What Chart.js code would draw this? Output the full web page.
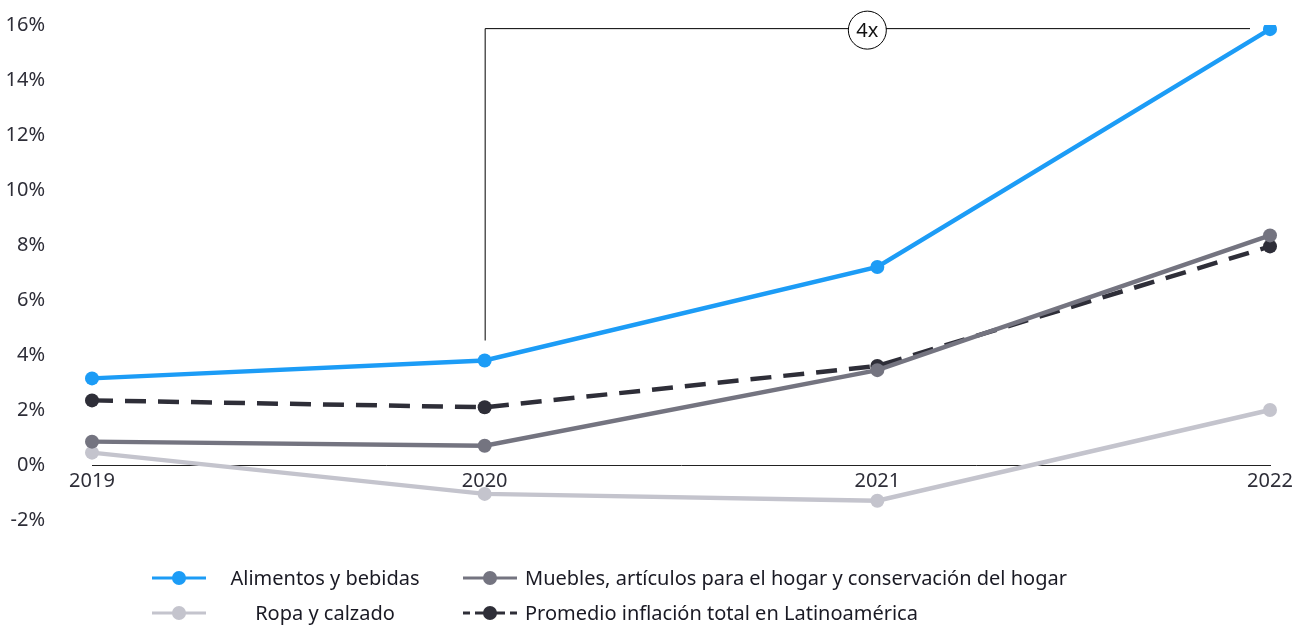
<!DOCTYPE html>
<html>
<head>
<meta charset="utf-8">
<script src="https://cdn.jsdelivr.net/npm/chart.js@4"></script>
<style>
  html, body { margin: 0; padding: 0; background: #fff; }
  #wrap { width: 1306px; height: 627px; position: relative; }
</style>
</head>
<body>
<div id="wrap"><canvas id="myChart" width="1306" height="627"></canvas></div>
<script>
// Inflación por categoría, % anual
const years = ['2019', '2020', '2021', '2022'];
const alimentos = [3.15, 3.8, 7.2, 15.85];
const muebles = [0.85, 0.7, 3.45, 8.35];
const ropa = [0.45, -1.05, -1.3, 2.0];
const promedio = [2.35, 2.1, 3.6, 7.95];

const seriesNames = [
  'Alimentos y bebidas',
  'Muebles, artículos para el hogar y conservación del hogar',
  'Ropa y calzado',
  'Promedio inflación total en Latinoamérica'
];

const yTicks = [-2, 0, 2, 4, 6, 8, 10, 12, 14, 16];

// bracket from 2020 to 2022 with the "4x" bubble
const bracketLabel = '4x';
const bracketYears = ['2020', '2022'];

const blue = '#1c9cf6';
const midGray = '#747480';
const lightGray = '#c4c4cd';
const dark = '#2e2e38';
const fontFamily = '"Noto Sans", sans-serif';
const fontSize = 20;

function lineSet(label, data, color, extra) {
  return Object.assign({
    label: label,
    data: data,
    borderColor: color,
    backgroundColor: color,
    pointBackgroundColor: color,
    pointBorderColor: color,
    borderWidth: 4.5,
    pointRadius: 7,
    pointHoverRadius: 7,
    pointBorderWidth: 0,
    tension: 0,
    fill: false
  }, extra || {});
}

// brace line + circled multiplier over the chart
const bracketPlugin = {
  id: 'bracket',
  afterDatasetsDraw(chart) {
    const ctx = chart.ctx;
    const x = chart.scales.x, y = chart.scales.y;
    const i0 = years.indexOf(bracketYears[0]);
    const i1 = years.indexOf(bracketYears[1]);
    const xStart = x.getPixelForValue(i0);
    const xEnd = x.getPixelForValue(i1) - 20;
    const yTop = y.getPixelForValue(alimentos[i1]) - 1;
    const yBottom = y.getPixelForValue(alimentos[i0]) - 20;
    ctx.save();
    ctx.strokeStyle = '#000';
    ctx.lineWidth = 1;
    ctx.beginPath();
    ctx.moveTo(xStart + 0.5, yBottom);
    ctx.lineTo(xStart + 0.5, yTop + 0.5);
    ctx.lineTo(xEnd, yTop + 0.5);
    ctx.stroke();

    const cx = x.getPixelForValue((i0 + i1) / 2) - 10;
    const cy = yTop + 2;
    ctx.beginPath();
    ctx.arc(cx, cy, 19, 0, Math.PI * 2);
    ctx.fillStyle = '#fff';
    ctx.fill();
    ctx.stroke();
    ctx.fillStyle = '#111';
    ctx.font = fontSize + 'px ' + fontFamily;
    ctx.textAlign = 'center';
    ctx.textBaseline = 'middle';
    ctx.fillText(bracketLabel, cx, cy + 1);
    ctx.restore();
  }
};

// legend: line + dot sample, two rows by two columns
const legendPlugin = {
  id: 'customLegend',
  afterDraw(chart) {
    const ctx = chart.ctx;
    const items = [
      { ds: 0, col: 0, row: 0 },
      { ds: 1, col: 1, row: 0 },
      { ds: 2, col: 0, row: 1 },
      { ds: 3, col: 1, row: 1 }
    ];
    const cols = [
      { lineX: 152, textX: 325, align: 'center' },
      { lineX: 463, textX: 525, align: 'left' }
    ];
    const rows = [578, 613];
    ctx.save();
    items.forEach(it => {
      const ds = chart.data.datasets.find(d => d.label === seriesNames[it.ds]);
      const c = cols[it.col];
      const yy = rows[it.row];
      ctx.strokeStyle = ds.borderColor;
      ctx.lineWidth = 3;
      ctx.beginPath();
      if (ds.borderDash) {
        ctx.moveTo(c.lineX, yy);
        ctx.lineTo(c.lineX + 7, yy);
        ctx.moveTo(c.lineX + 12, yy);
        ctx.lineTo(c.lineX + 42, yy);
        ctx.moveTo(c.lineX + 47, yy);
        ctx.lineTo(c.lineX + 54, yy);
      } else {
        ctx.moveTo(c.lineX, yy);
        ctx.lineTo(c.lineX + 54, yy);
      }
      ctx.stroke();
      ctx.beginPath();
      ctx.arc(c.lineX + 27, yy, 7, 0, Math.PI * 2);
      ctx.fillStyle = ds.borderColor;
      ctx.fill();
      ctx.fillStyle = '#1a1a24';
      ctx.font = fontSize + 'px ' + fontFamily;
      ctx.textAlign = c.align;
      ctx.textBaseline = 'middle';
      ctx.fillText(ds.label, c.textX, yy + 1);
    });
    ctx.restore();
  }
};

var ctx = document.getElementById('myChart').getContext('2d');
var config = {
  type: 'line',
  data: {
    labels: years,
    datasets: [
      lineSet(seriesNames[0], alimentos, blue),
      lineSet(seriesNames[1], muebles, midGray),
      lineSet(seriesNames[3], promedio, dark, { borderDash: [21, 12] }),
      lineSet(seriesNames[2], ropa, lightGray)
    ]
  },
  options: {
    responsive: false,
    animation: false,
    layout: { padding: { top: 25, right: 36, bottom: 107, left: 0 } },
    plugins: {
      legend: { display: false },
      tooltip: { enabled: false }
    },
    scales: {
      x: {
        position: { y: 0 },
        offset: false,
        afterFit(axis) { axis.height = 0; },
        grid: { display: false, drawTicks: true, tickLength: 4 },
        border: { display: true, color: '#222', width: 1 },
        ticks: {
          color: dark,
          font: { family: fontFamily, size: fontSize },
          padding: 0,
          maxRotation: 0
        }
      },
      y: {
        min: -2,
        max: 16,
        afterBuildTicks(axis) {
          axis.ticks = yTicks.map(v => ({ value: v }));
        },
        afterFit(axis) {
          axis.width = 92;
          // tick padding would otherwise push the plot down
          axis.paddingTop = 0;
          axis.paddingBottom = 0;
        },
        grid: { display: false, drawTicks: false },
        border: { display: false },
        ticks: {
          color: dark,
          font: { family: fontFamily, size: fontSize },
          padding: 47,
          callback: v => v + '%'
        }
      }
    }
  },
  plugins: [bracketPlugin, legendPlugin]
};

var chart = new Chart(ctx, config);
</script>
</body>
</html>
